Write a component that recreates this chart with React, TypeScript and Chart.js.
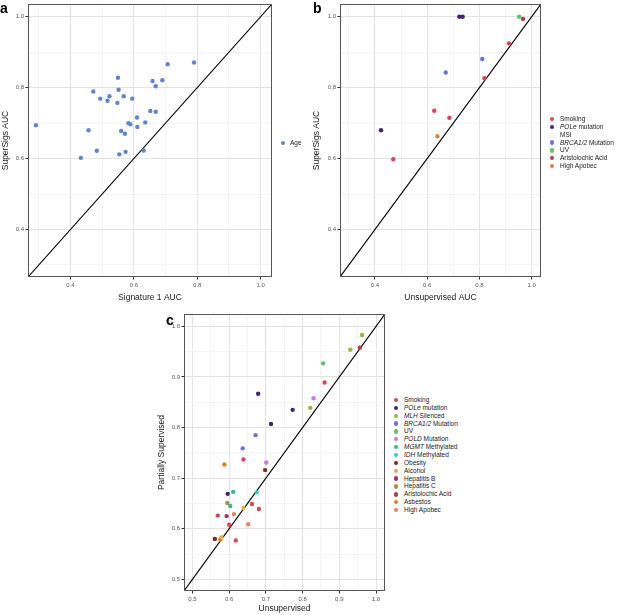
import { useEffect, useRef } from "react";
import { Chart, registerables } from "chart.js";

Chart.register(...registerables);

const FONT = "'Liberation Sans', Arial, Helvetica, sans-serif";

// panel a: Signature 1 AUC vs SuperSigs AUC (Age)
const ageX = [0.291, 0.433, 0.457, 0.483, 0.472, 0.494, 0.517, 0.523, 0.55, 0.552, 0.548, 0.568, 0.595, 0.554, 0.56, 0.572, 0.574, 0.583, 0.589, 0.61, 0.611, 0.631, 0.636, 0.652, 0.669, 0.659, 0.669, 0.69, 0.707, 0.79];
const ageY = [0.694, 0.602, 0.68, 0.622, 0.789, 0.769, 0.763, 0.776, 0.828, 0.794, 0.757, 0.776, 0.769, 0.612, 0.678, 0.67, 0.619, 0.7, 0.697, 0.716, 0.689, 0.623, 0.702, 0.734, 0.732, 0.819, 0.804, 0.821, 0.866, 0.871];

// panel b: Unsupervised AUC vs SuperSigs AUC
const bLabels = ["Smoking", "POLe mutation", "MSI", "BRCA1/2 Mutation", "UV", "Aristolochic Acid", "High Apobec"];
const bColors = ["#D5485A", "#44246E", "rgba(0,0,0,0)", "#6C72D8", "#5DC564", "#B23A50", "#E0804E"];
const bX = [[0.47, 0.627, 0.685, 0.819, 0.913], [0.423, 0.723, 0.736], [], [0.671, 0.811], [0.952], [0.967], [0.639]];
const bY = [[0.598, 0.735, 0.715, 0.827, 0.925], [0.68, 1.0, 1.0], [], [0.843, 0.881], [1.0], [0.994], [0.663]];

// panel c: Unsupervised vs Partially Supervised
const cLabels = ["Smoking", "POLe mutation", "MLH Silenced", "BRCA1/2 Mutation", "UV", "POLD Mutation", "MGMT Methylated", "IDH Methylated", "Obesity", "Alcohol", "Hepatitis B", "Hepatitis C", "Aristolochic Acid", "Asbestos", "High Apobec"];
const cColors = ["#D5485A", "#44246E", "#96B640", "#6C72D8", "#5DC564", "#C57FD6", "#3EB38C", "#3CC8C8", "#7E2A16", "#D9B24A", "#A8306A", "#A89048", "#B23A50", "#D98030", "#E8815E"];
const cX = [[0.86, 0.639, 0.662, 0.681, 0.569, 0.6, 0.618], [0.679, 0.773, 0.714, 0.596], [0.962, 0.93, 0.821], [0.672, 0.637], [0.856], [0.83, 0.701], [0.611, 0.603], [0.675], [0.698, 0.561], [0.639, 0.579], [0.593], [0.595], [0.956], [0.587, 0.576], [0.613, 0.652]];
const cY = [[0.889, 0.737, 0.649, 0.639, 0.626, 0.608, 0.577], [0.867, 0.835, 0.807, 0.669], [0.983, 0.954, 0.839], [0.785, 0.759], [0.927], [0.858, 0.731], [0.673, 0.645], [0.672], [0.716, 0.58], [0.641, 0.583], [0.625], [0.651], [0.958], [0.727, 0.579], [0.629, 0.609]];

// axis ticks (every tick gets a grid line, labelled ones are major)
const abTicks = [0.3, 0.4, 0.5, 0.6, 0.7, 0.8, 0.9, 1.0];
const abLabelled = [0.4, 0.6, 0.8, 1.0];
const cTicks = [0.5, 0.55, 0.6, 0.65, 0.7, 0.75, 0.8, 0.85, 0.9, 0.95, 1.0];
const cLabelled = [0.5, 0.6, 0.7, 0.8, 0.9, 1.0];

const italicWords = ["POLe", "MLH", "BRCA1/2", "POLD", "MGMT", "IDH"];

const frame = {
  id: "frame",
  afterDatasetsDraw(chart: any) {
    const { ctx, chartArea: a } = chart;
    ctx.save();
    ctx.strokeStyle = "#555555";
    ctx.lineWidth = 1;
    ctx.strokeRect(Math.round(a.left) + 0.5, Math.round(a.top) + 0.5, Math.round(a.right - a.left) - 1, Math.round(a.bottom - a.top) - 1);
    ctx.restore();
  },
};

type PanelProps = {
  left: number; top: number; width: number; height: number;
  area: { left: number; top: number; right: number; bottom: number };
  lo: number; hi: number;
  ticks: number[]; labelled: number[];
  labels: string[]; colors: string[]; xs: number[][]; ys: number[][];
  xTitle: string; yTitle: string; yTitlePad: number; xTitlePad: number;
};

function Panel(p: PanelProps) {
  const ref = useRef<HTMLCanvasElement>(null);

  useEffect(() => {
    if (!ref.current) return;
    const isMajor = (v: number) => p.labelled.some((m) => Math.abs(m - v) < 1e-6);

    const datasets: any[] = p.labels
      .map((label, i) => ({
        type: "scatter",
        label,
        data: p.xs[i].map((x, j) => ({ x, y: p.ys[i][j] })),
        backgroundColor: p.colors[i],
        borderWidth: 0,
        pointRadius: 2.2,
        order: 1,
      }))
      .filter((d) => d.data.length > 0);
    datasets.push({
      type: "line",
      label: "identity",
      data: [{ x: p.lo, y: p.lo }, { x: p.hi, y: p.hi }],
      borderColor: "#000000",
      borderWidth: 1.1,
      pointRadius: 0,
      order: 2,
    });

    const axis = (title: string, horizontal: boolean) => ({
      type: "linear",
      min: p.lo,
      max: p.hi,
      afterBuildTicks: (s: any) => {
        s.ticks = p.ticks.map((v) => ({ value: v }));
      },
      afterFit: (s: any) => {
        if (horizontal) {
          s.height = p.height - p.area.bottom;
          s.paddingLeft = 0;
          s.paddingRight = 0;
        } else {
          s.width = p.area.left;
          s.paddingTop = 0;
          s.paddingBottom = 0;
        }
      },
      ticks: {
        autoSkip: false,
        maxRotation: 0,
        padding: horizontal ? 2 : 1.5,
        color: "#555555",
        font: { family: FONT, size: 6 },
        callback: (v: any) => (isMajor(Number(v)) ? Number(v).toFixed(1) : ""),
      },
      grid: {
        color: (c: any) => (c.tick && isMajor(c.tick.value) ? "#E3E3E3" : "#EFEFEF"),
        lineWidth: (c: any) => (c.tick && isMajor(c.tick.value) ? 1 : 0.7),
        tickColor: (c: any) => (c.tick && isMajor(c.tick.value) ? "#333333" : "rgba(0,0,0,0)"),
        tickLength: 2.5,
        drawTicks: true,
      },
      border: { display: false },
      title: {
        display: true,
        text: title,
        color: "#1A1A1A",
        font: { family: FONT, size: 8.5 },
        padding: horizontal ? { top: 0, bottom: p.xTitlePad } : { top: p.yTitlePad, bottom: 0 },
      },
    });

    const chart = new Chart(ref.current, {
      type: "scatter",
      data: { datasets },
      options: {
        responsive: false,
        animation: false,
        layout: { padding: { left: 0, top: p.area.top, right: p.width - p.area.right, bottom: 0 } },
        plugins: { legend: { display: false }, tooltip: { enabled: false } },
        scales: { x: axis(p.xTitle, true), y: axis(p.yTitle, false) } as any,
      },
      plugins: [frame],
    } as any);

    return () => chart.destroy();
  }, []);

  return (
    <canvas
      ref={ref}
      width={p.width}
      height={p.height}
      style={{ position: "absolute", left: p.left, top: p.top, width: p.width, height: p.height }}
    />
  );
}

function LegendText({ text }: { text: string }) {
  const word = italicWords.find((w) => text.startsWith(w));
  if (!word) return <>{text}</>;
  return (
    <>
      <i>{word}</i>
      {text.slice(word.length)}
    </>
  );
}

function Legend({ labels, colors, dotX, textX, y0, step }: { labels: string[]; colors: string[]; dotX: number; textX: number; y0: number; step: number }) {
  return (
    <>
      {labels.map((label, i) => {
        const cy = y0 + i * step;
        return (
          <div key={label}>
            <span style={{ position: "absolute", left: dotX - 2.2, top: cy - 2.2, width: 4.4, height: 4.4, borderRadius: "50%", background: colors[i] }} />
            <span style={{ position: "absolute", left: textX, top: cy - 4, fontSize: 6.5, lineHeight: "8px", color: "#1A1A1A", whiteSpace: "nowrap" }}>
              <LegendText text={label} />
            </span>
          </div>
        );
      })}
    </>
  );
}

const letterStyle = { position: "absolute" as const, fontWeight: 700, fontSize: 14, lineHeight: "14px", color: "#000" };

export default function App() {
  return (
    <div style={{ position: "fixed", left: 0, top: 0, width: 617, height: 615, background: "#fff", overflow: "hidden", fontFamily: FONT }}>
      <Panel
        left={0} top={0} width={300} height={305}
        area={{ left: 28, top: 2, right: 272, bottom: 277 }}
        lo={0.266} hi={1.036} ticks={abTicks} labelled={abLabelled}
        labels={["Age"]} colors={["#5F86C9"]} xs={[ageX]} ys={[ageY]}
        xTitle="Signature 1 AUC" yTitle="SuperSigs AUC" yTitlePad={0.9} xTitlePad={2.2}
      />
      <Panel
        left={310} top={0} width={240} height={305}
        area={{ left: 30, top: 2, right: 231, bottom: 277 }}
        lo={0.266} hi={1.036} ticks={abTicks} labelled={abLabelled}
        labels={bLabels} colors={bColors} xs={bX} ys={bY}
        xTitle="Unsupervised AUC" yTitle="SuperSigs AUC" yTitlePad={1.6} xTitlePad={2.2}
      />
      <Panel
        left={155} top={305} width={235} height={310}
        area={{ left: 29, top: 9, right: 230, bottom: 286 }}
        lo={0.477} hi={1.0245} ticks={cTicks} labelled={cLabelled}
        labels={cLabels} colors={cColors} xs={cX} ys={cY}
        xTitle="Unsupervised" yTitle="Partially Supervised" yTitlePad={1.9} xTitlePad={0.9}
      />
      <Legend labels={["Age"]} colors={["#5F86C9"]} dotX={283} textX={290} y0={142.7} step={0} />
      <Legend labels={bLabels} colors={bColors} dotX={552} textX={560} y0={119.3} step={7.78} />
      <Legend labels={cLabels} colors={cColors} dotX={395.7} textX={404} y0={400} step={7.86} />
      <div style={{ ...letterStyle, left: 0, top: 1 }}>a</div>
      <div style={{ ...letterStyle, left: 313, top: 1 }}>b</div>
      <div style={{ ...letterStyle, left: 166, top: 313 }}>c</div>
    </div>
  );
}
